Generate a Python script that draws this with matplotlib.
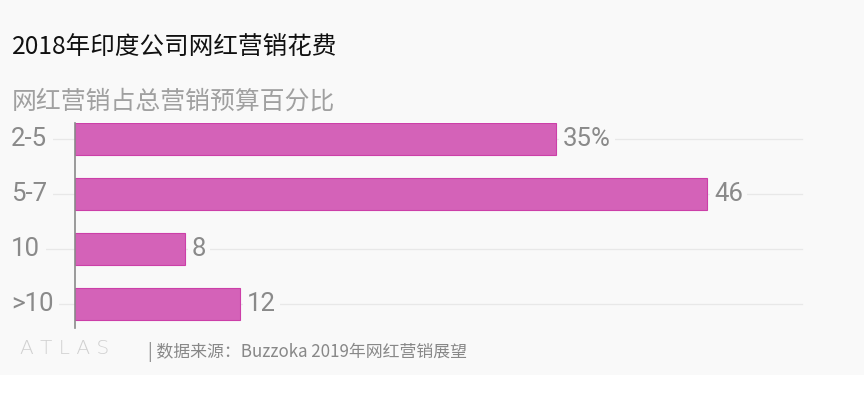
import matplotlib
matplotlib.use('Agg')
import matplotlib.pyplot as plt
import matplotlib.transforms as mtransforms
from matplotlib.patches import Rectangle

plt.rcParams['font.family'] = ['Noto Sans CJK SC', 'DejaVu Sans']

# 数据
categories = ['2-5', '5-7', '10', '>10']
values = [35, 46, 8, 12]
value_labels = ['35%', '46', '8', '12']

title = '2018年印度公司网红营销花费'
subtitle = '网红营销占总营销预算百分比'
source = '| 数据来源：Buzzoka 2019年网红营销展望'

W, H = 864, 395
BG = '#f9f9f9'
fig = plt.figure(figsize=(W / 100, H / 100), dpi=100)
fig.patch.set_facecolor('white')
# 灰色背景块（底部留白）
fig.patches.append(Rectangle((0, 1 - 375 / H), 1, 375 / H, transform=fig.transFigure,
                             facecolor=BG, edgecolor='none', zorder=-10))

ax = fig.add_axes([75 / W, 1 - 328 / H, (802 - 75) / W, (328 - 123) / H])
ax.set_facecolor('none')

y = list(range(len(categories)))
ax.barh(y, values, height=0.58, color='#d462b8', edgecolor='#cc3fa8', linewidth=0.8, zorder=3)

# x 用图坐标、y 用数据坐标
trans = mtransforms.blended_transform_factory(fig.transFigure, ax.transData)

# 横向网格线
for yi in y:
    ax.plot([12 / W, 802 / W], [yi, yi], color='#e8e8e8', linewidth=0.9, zorder=1,
            clip_on=False, transform=trans)

# 分类标签（左对齐）
for yi, cat in zip(y, categories):
    ax.text(11 / W, yi, cat, transform=trans, va='center', ha='left', fontsize=18.5,
            color='#8a8a8a', family=['Roboto', 'DejaVu Sans'], zorder=4,
            bbox=dict(facecolor=BG, edgecolor='none', pad=4))

# 数值标签
for yi, v, lab in zip(y, values, value_labels):
    ax.text(v + 0.5, yi, lab, va='center', ha='left', fontsize=18.5, color='#8a8a8a',
            family=['Roboto', 'DejaVu Sans'], zorder=4,
            bbox=dict(facecolor=BG, edgecolor='none', pad=3))

ax.set_xlim(0, 52.9)
ax.set_ylim(3.44, -0.29)
ax.set_yticks([])
ax.set_xticks([])
for s in ['top', 'right', 'bottom']:
    ax.spines[s].set_visible(False)
ax.spines['left'].set_color('#8a8a8a')
ax.spines['left'].set_linewidth(1.2)
ax.spines['left'].set_zorder(5)

fig.text(12 / W, 1 - 47 / H, title, fontsize=17.7, color='#111111', va='center', ha='left')
fig.text(12 / W, 1 - 102 / H, subtitle, fontsize=17.9, color='#a0a0a0', va='center', ha='left')
fig.text(20 / W, 1 - 349 / H, 'A T L A S', fontsize=14.5, color='#d0d0d0', va='center', ha='left',
         family=['DejaVu Sans'], weight='light')
fig.text(148 / W, 1 - 352 / H, source, fontsize=12.2, color='#888888', va='center', ha='left')

fig.savefig('out.png', dpi=100, facecolor=fig.get_facecolor())
